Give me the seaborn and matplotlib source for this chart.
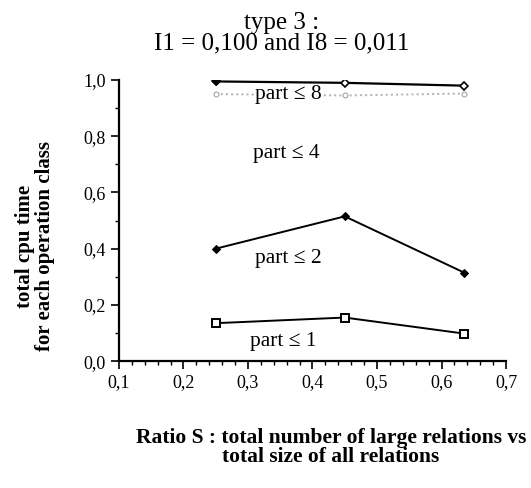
import pandas as pd
import matplotlib
matplotlib.use('Agg')
import matplotlib.pyplot as plt
import matplotlib.ticker as mticker
import seaborn as sns

# dados
ratio_s = [0.25, 0.45, 0.635]
part_le_8_top = [0.995, 0.99, 0.98]
part_le_8 = [0.95, 0.945, 0.952]
part_le_2 = [0.40, 0.515, 0.315]
part_le_1 = [0.135, 0.155, 0.098]

rotulos = ['part ≤ 8', 'part ≤ 4', 'part ≤ 2', 'part ≤ 1']
rotulo_x = [0.362, 0.36, 0.362, 0.355]
rotulo_y = [0.95, 0.74, 0.365, 0.07]

sns.set_style('ticks')
plt.rcParams['font.family'] = ['Liberation Serif', 'DejaVu Serif']
plt.rcParams['text.color'] = 'black'

fig = plt.figure(figsize=(5.31, 4.88), dpi=100)
ax = fig.add_axes([0.224, 0.26, 0.729, 0.576])

sns.lineplot(x=ratio_s, y=part_le_8_top, ax=ax, color='black', lw=1.6,
             marker='D', markersize=4, markerfacecolor='white',
             markeredgecolor='black', markeredgewidth=1.2)
# primeiro ponto cheio
sns.scatterplot(x=ratio_s[:1], y=part_le_8_top[:1], ax=ax, color='black',
                marker='D', s=18, edgecolor='black', zorder=5)
sns.lineplot(x=ratio_s, y=part_le_8, ax=ax, color='#b0b0b0', lw=1.4,
             linestyle=':', marker='o', markersize=3.5,
             markerfacecolor='white', markeredgecolor='#a0a0a0')
sns.lineplot(x=ratio_s, y=part_le_2, ax=ax, color='black', lw=1.4,
             marker='D', markersize=4, markerfacecolor='black',
             markeredgecolor='black')
sns.lineplot(x=ratio_s, y=part_le_1, ax=ax, color='black', lw=1.4,
             marker='s', markersize=5.5, markerfacecolor='white',
             markeredgecolor='black', markeredgewidth=1.4)

for txt, tx, ty in zip(rotulos, rotulo_x, rotulo_y):
    ax.text(tx, ty, txt, fontsize=15.5, ha='center', va='center', color='black',
            bbox=dict(facecolor='white', edgecolor='none', pad=0.5) if txt == 'part ≤ 8' else None)

ax.set_xlim(0.1, 0.7)
ax.set_ylim(0.0, 1.0)
ax.xaxis.set_major_locator(mticker.MultipleLocator(0.1))
ax.xaxis.set_minor_locator(mticker.MultipleLocator(0.02))
ax.yaxis.set_major_locator(mticker.MultipleLocator(0.2))
ax.yaxis.set_minor_locator(mticker.MultipleLocator(0.1))
fmt = mticker.FuncFormatter(lambda v, p: f'{v:.1f}'.replace('.', ','))
ax.xaxis.set_major_formatter(fmt)
ax.yaxis.set_major_formatter(fmt)
ax.tick_params(axis='both', which='major', labelsize=13, length=6, width=1.2,
               direction='out', colors='black')
ax.tick_params(axis='both', which='minor', length=3, width=1, direction='out',
               colors='black')
sns.despine(ax=ax)
for s in ['left', 'bottom']:
    ax.spines[s].set_linewidth(1.6)
    ax.spines[s].set_color('black')
ax.set_xlabel('')
ax.set_ylabel('')

fig.text(0.53, 0.932, 'type 3 :\nI1 = 0,100 and I8 = 0,011', ha='center',
         va='center', fontsize=18, linespacing=0.88, color='black')
fig.text(0.066, 0.495, 'total cpu time\nfor each operation class', rotation=90,
         ha='center', va='center', fontsize=15, fontweight='bold',
         linespacing=0.95, color='black')
fig.text(0.623, 0.083, 'Ratio S : total number of large relations vs\ntotal size of all relations',
         ha='center', va='center', fontsize=15.5, fontweight='bold',
         linespacing=0.92, color='black')

fig.savefig('out.png', dpi=100)
